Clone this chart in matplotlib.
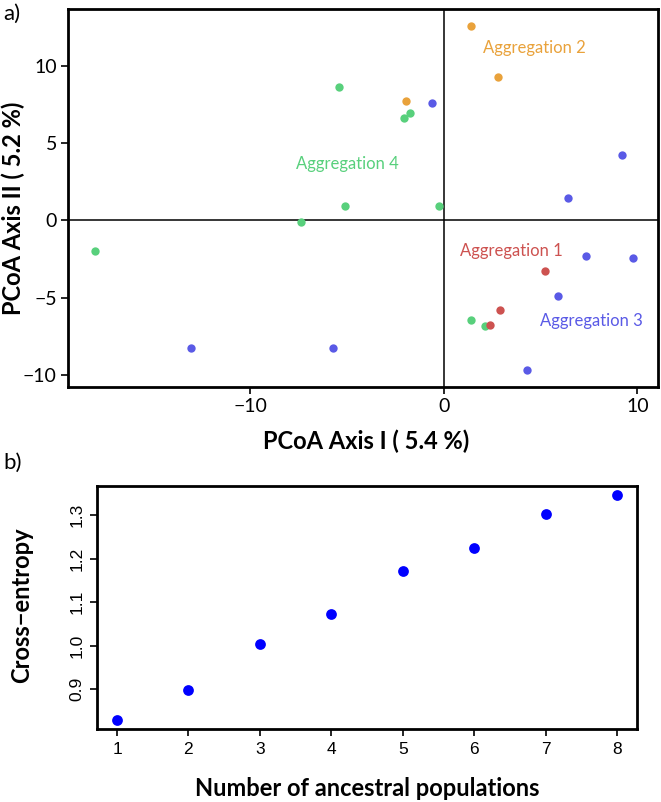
import numpy as np
import matplotlib
matplotlib.use("Agg")
import matplotlib.pyplot as plt

# ---- panel a: PCoA scores per aggregation ----
agg1_x = [5.25, 2.91, 2.41]
agg1_y = [-3.31, -5.79, -6.77]
agg2_x = [1.40, 2.81, -1.93]
agg2_y = [12.58, 9.29, 7.74]
agg3_x = [-0.62, 9.18, 6.41, 7.32, 9.75, 5.91, 4.29, -13.04, -5.70]
agg3_y = [7.59, 4.22, 1.45, -2.31, -2.44, -4.91, -9.73, -8.30, -8.30]
agg4_x = [-18.0, -7.37, -5.43, -1.74, -2.03, -5.10, -0.26, 1.43, 2.15]
agg4_y = [-2.0, -0.12, 8.63, 6.98, 6.64, 0.93, 0.95, -6.44, -6.87]

# ---- panel b: cross-entropy vs K ----
k_values = [1, 2, 3, 4, 5, 6, 7, 8]
cross_entropy = [0.830, 0.899, 1.005, 1.072, 1.172, 1.224, 1.303, 1.346]

col1 = "#CD5250"
col2 = "#E9A23B"
col3 = "#5A5AE6"
col4 = "#58D07C"

plt.rcParams['font.family'] = ['Lato', 'DejaVu Sans']

W, H = 661, 802
fig = plt.figure(figsize=(W / 100, H / 100), dpi=100)

def px_axes(l, t, r, b):
    return fig.add_axes([l / W, 1 - b / H, (r - l) / W, (b - t) / H])

###############################################################
#### panel a
###############################################################
ax = px_axes(68, 9, 658, 387)
ax.axhline(0, color="black", lw=1.1, zorder=1)
ax.axvline(0, color="black", lw=1.1, zorder=1)
ms = 36
ax.scatter(agg4_x, agg4_y, s=ms, color=col4, zorder=3, linewidths=0)
ax.scatter(agg3_x, agg3_y, s=ms, color=col3, zorder=3, linewidths=0)
ax.scatter(agg2_x, agg2_y, s=ms, color=col2, zorder=3, linewidths=0)
ax.scatter(agg1_x, agg1_y, s=ms, color=col1, zorder=4, linewidths=0)

fs_agg = 12
ax.text(4.7, 11.17, "Aggregation 2", color=col2, fontsize=fs_agg, ha="center", va="center")
ax.text(-4.96, 3.68, "Aggregation 4", color=col4, fontsize=fs_agg, ha="center", va="center")
ax.text(3.48, -1.99, "Aggregation 1", color=col1, fontsize=fs_agg, ha="center", va="center")
ax.text(7.63, -6.55, "Aggregation 3", color=col3, fontsize=fs_agg, ha="center", va="center")

ax.set_xlim(-19.4, 11.06)
ax.set_ylim(-10.8, 13.7)
ax.set_xticks([-10, 0, 10])
ax.set_xticklabels(["\u221210", "0", "10"])
ax.set_yticks([-10, -5, 0, 5, 10])
ax.set_yticklabels(["\u221210", "\u22125", "0", "5", "10"])
ax.tick_params(direction="out", length=5, width=1.2, labelsize=14, pad=3)
for sp in ax.spines.values():
    sp.set_linewidth(2)

fs_lab = 17
fig.text(366 / W, 1 - 441 / H, "PCoA Axis I ( 5.4 %)", fontsize=fs_lab, fontweight="bold",
         ha="center", va="center")
fig.text(13 / W, 1 - 208 / H, "PCoA Axis II ( 5.2 %)", fontsize=fs_lab, fontweight="bold",
         ha="center", va="center", rotation=90)
fig.text(3 / W, 1 - 14 / H, "a)", fontsize=16, ha="left", va="center")

###############################################################
#### panel b
###############################################################
bx = px_axes(97, 486, 637, 729)
bx.scatter(k_values, cross_entropy, s=60, color="#0000FF", zorder=3, linewidths=0)
bx.set_xlim(0.72, 8.28)
bx.set_ylim(0.809, 1.367)
bx.set_xticks(k_values)
bx.set_yticks([0.9, 1.0, 1.1, 1.2, 1.3])
bx.set_yticklabels(["0.9", "1.0", "1.1", "1.2", "1.3"], rotation=90, va="center")
bx.tick_params(direction="out", length=5, width=1.2, labelsize=12.5, pad=4)
for lab in bx.get_xticklabels() + bx.get_yticklabels():
    lab.set_family(["Liberation Sans", "DejaVu Sans"])
for sp in bx.spines.values():
    sp.set_linewidth(2)

fig.text(367 / W, 1 - 788 / H, "Number of ancestral populations", fontsize=fs_lab,
         fontweight="bold", ha="center", va="center")
fig.text(22 / W, 1 - 605 / H, "Cross\u2212entropy", fontsize=fs_lab, fontweight="bold",
         ha="center", va="center", rotation=90)
fig.text(3 / W, 1 - 463 / H, "b)", fontsize=16, ha="left", va="center")

fig.savefig("out.png", dpi=100)
